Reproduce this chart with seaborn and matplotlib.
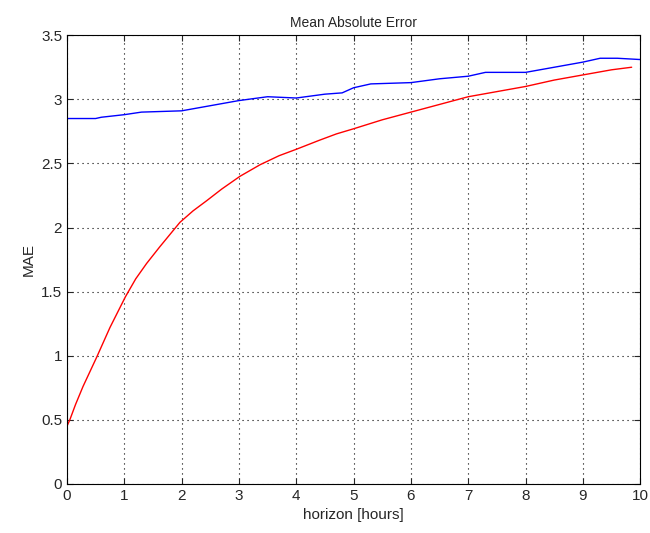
import numpy as np
import pandas as pd
import seaborn as sns
import matplotlib.pyplot as plt
from matplotlib.ticker import FuncFormatter

# Valores
horizon_blue = [0, 0.5, 0.6, 1.0, 1.3, 2.0, 2.5, 3.0, 3.5, 4.0, 4.5, 4.8, 5.0, 5.3,
                6.0, 6.5, 7.0, 7.3, 8.0, 8.5, 9.0, 9.3, 9.6, 10.0]
mae_blue = [2.85, 2.85, 2.86, 2.88, 2.90, 2.91, 2.95, 2.99, 3.02, 3.01, 3.04, 3.05, 3.09, 3.12,
            3.13, 3.16, 3.18, 3.21, 3.21, 3.25, 3.29, 3.32, 3.32, 3.31]

horizon_red = [0, 0.05, 0.15, 0.28, 0.52, 0.75, 1.02, 1.2, 1.39, 1.62, 1.97, 2.2, 2.44,
               2.7, 3.02, 3.37, 3.7, 4.0, 4.4, 4.7, 5.0, 5.5, 6.0, 6.5, 7.0, 7.5,
               8.0, 8.5, 9.0, 9.5, 9.85]
mae_red = [0.45, 0.50, 0.62, 0.76, 0.99, 1.22, 1.46, 1.60, 1.72, 1.85, 2.04, 2.13, 2.21,
           2.30, 2.40, 2.49, 2.56, 2.61, 2.68, 2.73, 2.77, 2.84, 2.90, 2.96, 3.02, 3.06,
           3.10, 3.15, 3.19, 3.23, 3.25]

df_blue = pd.DataFrame({'horizon': horizon_blue, 'mae': mae_blue})
df_red = pd.DataFrame({'horizon': horizon_red, 'mae': mae_red})

sns.set_style("ticks")
plt.rcParams['font.family'] = ['Liberation Sans', 'DejaVu Sans']

fig = plt.figure(figsize=(6.5, 5.33), dpi=100)
ax = fig.add_axes([0.103, 0.092, 0.882, 0.842])

sns.lineplot(data=df_blue, x='horizon', y='mae', color='blue', linewidth=1.0, ax=ax)
sns.lineplot(data=df_red, x='horizon', y='mae', color='red', linewidth=1.0, ax=ax)

ax.set_xlim(0, 10)
ax.set_ylim(0, 3.5)
ax.set_xticks(np.arange(0, 11, 1))
ax.set_yticks(np.arange(0, 3.51, 0.5))
ax.yaxis.set_major_formatter(FuncFormatter(lambda v, p: f'{v:g}'))
ax.tick_params(direction='in', top=True, right=True, labelsize=11, length=4, width=0.8)
ax.grid(True, linestyle=(0, (1, 3.5)), color='black', linewidth=0.8)
for s in ax.spines.values():
    s.set_visible(True)
    s.set_linewidth(0.8)
    s.set_color('black')

ax.set_xlabel('horizon [hours]', fontsize=11)
ax.set_ylabel('MAE', fontsize=11)
ax.set_title('Mean Absolute Error', fontsize=10)

plt.savefig('out.png', dpi=100)
plt.close()
